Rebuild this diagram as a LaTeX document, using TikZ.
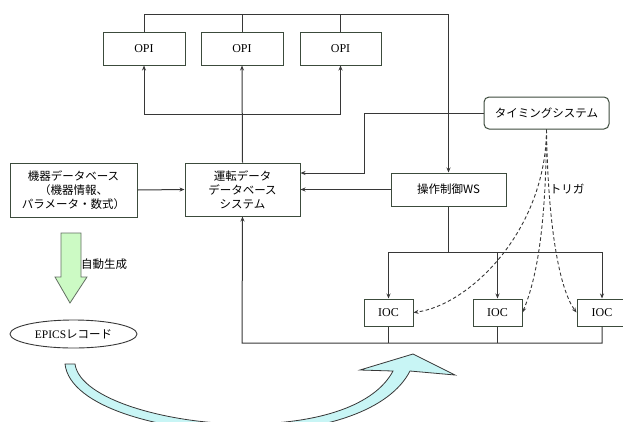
\documentclass[tikz,border=0pt]{standalone}
\usepackage{fontspec}
\setmainfont{Liberation Serif}
\newfontfamily\jp{Noto Sans CJK JP}
\usetikzlibrary{arrows.meta,shapes.geometric}
\definecolor{boxline}{RGB}{60,75,60}
\definecolor{ln}{RGB}{55,55,55}
\definecolor{grn}{RGB}{204,250,196}
\definecolor{cyn}{RGB}{200,245,245}
\tikzset{
 box/.style={draw=boxline, line width=1pt, fill=white, inner sep=0pt, align=center},
 conn/.style={draw=ln, line width=1pt},
 arr/.style={conn, -{Stealth[length=5pt,width=4pt]}},
 trig/.style={draw=ln, line width=0.9pt, dash pattern=on 3.5pt off 2.5pt, -{Stealth[length=5pt,width=4pt]}},
 lat/.style={font=\fontsize{12}{14}\selectfont},
 jpt/.style={font=\jp\fontsize{11.5}{14}\selectfont},
}
\begin{document}
\begin{tikzpicture}[x=1pt,y=-1pt]
\useasboundingbox[fill=white] (0,0) rectangle (623,421);
% boxes
\node[box,lat,minimum width=82pt,minimum height=33pt] (opi1) at (144,48.5) {OPI};
\node[box,lat,minimum width=82pt,minimum height=33pt] (opi2) at (242,48.5) {OPI};
\node[box,lat,minimum width=81pt,minimum height=33pt] (opi3) at (340.5,48.5) {OPI};
\node[box,jpt,minimum width=115pt,minimum height=53pt] (unten) at (242.5,189.5) {運転データ\\データベース\\システム};
\node[box,jpt,minimum width=127pt,minimum height=54pt] (kiki) at (73.5,190) {機器データベース\\（機器情報、\\パラメータ・数式）};
\node[box,jpt,minimum width=115pt,minimum height=33pt] (ws) at (448.5,189.5) {操作制御WS};
\node[box,jpt,rounded corners=5pt,minimum width=125pt,minimum height=32pt] (timing) at (546.5,113) {タイミングシステム};
\node[box,lat,minimum width=49pt,minimum height=27pt] (ioc1) at (388.5,312.5) {IOC};
\node[box,lat,minimum width=49pt,minimum height=27pt] (ioc2) at (497.5,312.5) {IOC};
\node[box,lat,minimum width=50pt,minimum height=27pt] (ioc3) at (602,312.5) {IOC};
\node[draw=ln,line width=0.9pt,ellipse,minimum width=127pt,minimum height=28pt,inner sep=0pt] (epics) at (73.5,334) {\fontsize{11.5}{14}\selectfont EPICS{\jp レコード}};
% coordinates
\coordinate (topR) at (448.5,14);
\coordinate (ob) at (242,114);
\coordinate (tj) at (364,173);
\coordinate (wb) at (448.5,252);
\coordinate (bb) at (242,343);
% top connections
\draw[arr] (opi1.north) |- (topR) -- (ws.north);
\draw[conn] (opi2.north) -- (opi2.north |- topR);
\draw[conn] (opi3.north) -- (opi3.north |- topR);
\draw[arr] (ob) -| (opi1.south);
\draw[arr] (ob) -| (opi3.south);
\draw[arr] (unten.north) -- (opi2.south);
% to unten
\draw[arr] (kiki.east) -- (unten.west);
\draw[arr] (timing.west) -| (tj) -- (unten.east |- tj);
\draw[arr] (ws.west) -- (unten.east |- ws.west);
% WS to IOCs
\draw[conn] (ws.south) -- (wb);
\draw[arr] (wb) -| (ioc1.north);
\draw[arr] (wb) -| (ioc3.north);
\draw[arr] (ioc2.north |- wb) -- (ioc2.north);
% bottom bus
\draw[arr] (ioc3.south) |- (bb) -- (unten.south);
\draw[conn] (ioc1.south) -- (ioc1.south |- bb);
\draw[conn] (ioc2.south) -- (ioc2.south |- bb);
% triggers
\draw[trig] (timing.south) .. controls (546,230) and (470,305) .. (ioc1.east);
\draw[trig] (timing.south) .. controls (546,230) and (536,280) .. (ioc2.east);
\draw[trig] (timing.south) .. controls (548,230) and (560,290) .. (ioc3.west);
\node[jpt,inner sep=0pt] (trg) at (567,189) {トリガ};
% green arrow
\draw[draw=boxline!80,line width=0.8pt,fill=grn] (61,233) -- (81,233) -- (81,277) -- (87,277) -- (70,303) -- (55,277) -- (61,277) -- cycle;
\node[jpt,inner sep=0pt] (auto) at (104,264) {自動生成};
% cyan curved arrow
\draw[draw=ln,line width=0.8pt,fill=cyn] (65,364) .. controls (70,408) and (165,432) .. (245,432) .. controls (325,432) and (390,410) .. (410,371) -- (455,375) -- (413,354) -- (360,370) -- (393,371) .. controls (375,405) and (320,424) .. (245,424) .. controls (170,424) and (80,400) .. (75,364) -- cycle;
\end{tikzpicture}
\end{document}
